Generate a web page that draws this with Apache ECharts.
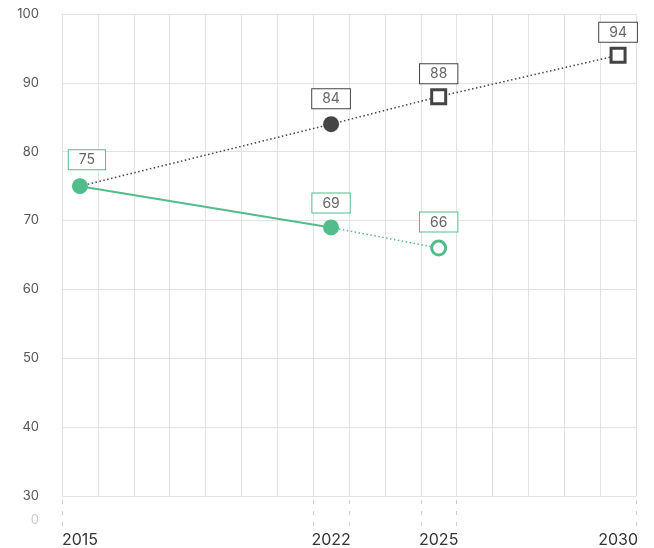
<!DOCTYPE html>
<html>
<head>
<meta charset="utf-8">
<script src="https://cdn.jsdelivr.net/npm/echarts@6/dist/echarts.min.js"></script>
<style>
  html, body { margin: 0; padding: 0; background: #fff; }
  #chart { width: 654px; height: 548px; }
</style>
</head>
<body>
<div id="chart"></div>
<script>
// Yearly categories along the x axis
const years = ['2015','2016','2017','2018','2019','2020','2021','2022',
               '2023','2024','2025','2026','2027','2028','2029','2030'];
const labelledYears = ['2015', '2022', '2025', '2030'];

// Target path (dark, dotted)
const targetYears = ['2015', '2022', '2025', '2030'];
const targetValues = [75, 84, 88, 94];

// Observed values (green, solid)
const actualYears = ['2015', '2022'];
const actualValues = [75, 69];

// Current trend projection (green, dotted)
const trendYears = ['2022', '2025'];
const trendValues = [69, 66];

// Y axis ticks
const yMin = 30, yMax = 100, yStep = 10;

// Band boundaries that get a dashed guide tick under the axis
const guideTicks = [0, 7, 8, 10, 11, 16];

const GREEN = '#52bd8b';
const DARK = '#444444';
const FONT = 'Inter, "Noto Sans", sans-serif';

function boxLabel(color, distance, offset) {
  return {
    show: true,
    position: 'top',
    distance: distance,
    offset: offset || [0, 0],
    formatter: '{c}',
    formatter: p => String(p.value[1]),
    color: '#666',
    fontSize: 14,
    fontFamily: FONT,
    backgroundColor: '#fff',
    borderColor: color,
    borderWidth: 1,
    padding: [3, 10, 2, 10]
  };
}

const targetData = targetYears.map((y, i) => {
  const item = { value: [y, targetValues[i]] };
  if (i === 0) {
    item.symbol = 'none';
    item.label = { show: false };
  } else if (i === 1) {
    item.symbol = 'circle';
    item.symbolSize = 16;
    item.itemStyle = { color: DARK, borderWidth: 0 };
    item.label = boxLabel(DARK, 8);
  } else {
    item.symbol = 'rect';
    item.symbolSize = 14;
    item.itemStyle = { color: '#fff', borderColor: DARK, borderWidth: 3 };
    item.label = boxLabel(DARK, 5);
  }
  return item;
});

const actualData = actualYears.map((y, i) => ({
  value: [y, actualValues[i]],
  label: boxLabel(GREEN, i === 0 ? 9 : 7, i === 0 ? [7, 0] : [0, 0])
}));

const trendData = trendYears.map((y, i) => {
  if (i === 0) return { value: [y, trendValues[i]], symbol: 'none', label: { show: false } };
  return {
    value: [y, trendValues[i]],
    symbol: 'circle',
    symbolSize: 14,
    itemStyle: { color: '#fff', borderColor: GREEN, borderWidth: 3 },
    label: boxLabel(GREEN, 8)
  };
});

const chart = echarts.init(document.getElementById('chart'), null, { renderer: 'canvas' });

chart.setOption({
  animation: false,
  backgroundColor: '#fff',
  grid: { left: 62, right: 18, top: 14, bottom: 52 },
  xAxis: [
    {
      type: 'category',
      data: years,
      boundaryGap: true,
      axisLine: { show: true, lineStyle: { color: '#e2e2e2', width: 1 } },
      axisTick: { show: false },
      splitLine: { show: true, interval: 0, lineStyle: { color: '#e2e2e2', width: 1 } },
      axisLabel: {
        interval: (idx, val) => labelledYears.includes(val),
        margin: 36,
        color: '#333',
        fontSize: 16,
        fontFamily: FONT
      }
    },
    {
      // band-boundary guides under the labelled years
      type: 'value',
      position: 'bottom',
      min: 0,
      max: years.length,
      axisLine: { show: false },
      axisLabel: { show: false },
      splitLine: { show: false },
      axisTick: {
        show: true,
        customValues: guideTicks,
        length: 32,
        lineStyle: { color: '#cccccc', width: 1, type: [4, 7], dashOffset: -4 }
      }
    }
  ],
  yAxis: {
    type: 'value',
    min: yMin,
    max: yMax,
    interval: yStep,
    axisLine: { show: true, lineStyle: { color: '#e2e2e2' } },
    axisTick: { show: false },
    splitLine: { lineStyle: { color: '#e2e2e2', width: 1 } },
    axisLabel: { color: '#555', fontSize: 13, margin: 23, fontFamily: FONT }
  },
  graphic: [
    {
      // broken-axis zero marker
      type: 'text',
      right: 654 - 39,
      top: 514,
      style: { text: '0', fill: '#cccccc', fontSize: 13, fontFamily: FONT }
    }
  ],
  series: [
    {
      name: 'Target',
      type: 'line',
      data: targetData,
      lineStyle: { color: DARK, width: 1.5, type: [1.5, 2.5] },
      itemStyle: { color: DARK },
      z: 2
    },
    {
      name: 'Trend',
      type: 'line',
      data: trendData,
      lineStyle: { color: GREEN, width: 1.5, type: [1.5, 2.5] },
      itemStyle: { color: GREEN },
      z: 3
    },
    {
      name: 'Actual',
      type: 'line',
      data: actualData,
      symbol: 'circle',
      symbolSize: 16,
      lineStyle: { color: GREEN, width: 2 },
      itemStyle: { color: GREEN, borderWidth: 0 },
      z: 4
    }
  ]
});
</script>
</body>
</html>
